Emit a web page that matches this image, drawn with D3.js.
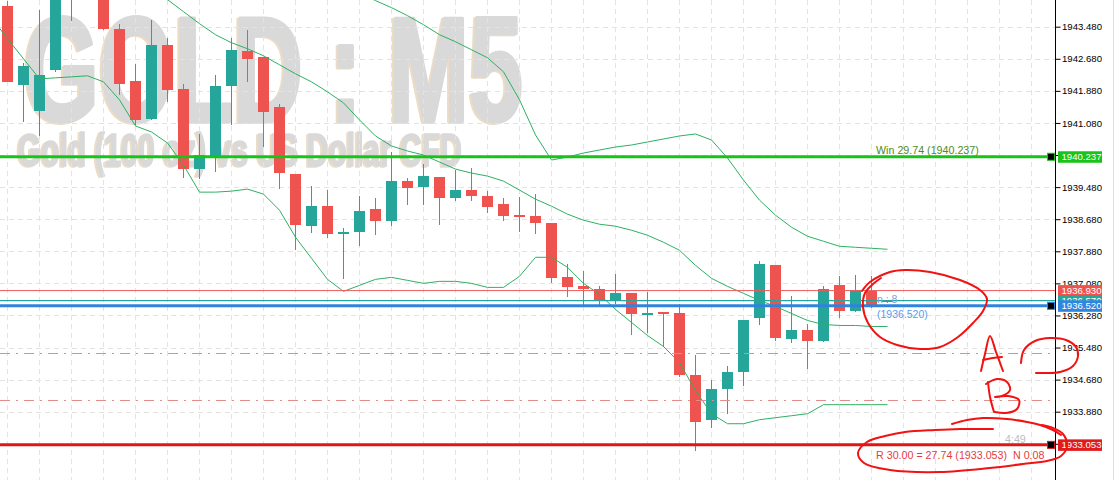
<!DOCTYPE html>
<html><head><meta charset="utf-8">
<script src="https://cdn.jsdelivr.net/npm/d3@7"></script>
<style>
html,body{margin:0;padding:0;background:#fff;}
svg{display:block;}
text{font-family:"Liberation Sans",Arial,sans-serif;}
</style></head><body>
<svg id="c" width="1115" height="480"></svg>
<script>
// ---------- DATA ----------
const opens  = [1943.988,1942.038,1941.388,1942.388,1944.405,1944.9,1944.28,1943.43,1942.13,1941.18,
  1943.03,1941.93,1939.93,1940.238,1942.005,1942.88,1942.73,1941.488,1939.805,1938.505,
  1939.005,1938.305,1938.355,1938.93,1938.638,1939.63,1939.48,1939.73,1939.213,1939.405,
  1939.255,1939.055,1938.78,1938.755,1938.58,1937.23,1937.005,1936.93,1936.648,1936.83,
  1936.288,1936.355,1936.33,1934.805,1933.663,1934.438,1934.863,1936.213,1937.53,1935.688,
  1935.905,1935.638,1937.03,1936.388,1936.888,1936.615];
const highs  = [1944.113,1942.58,1943.905,1944.305,1945.03,1945.1,1944.405,1943.555,1942.555,1943.655,
  1943.205,1942.055,1940.805,1942.28,1943.205,1943.405,1942.73,1941.555,1939.805,1939.505,
  1939.405,1938.463,1939.255,1939.205,1940.355,1939.705,1940.055,1939.73,1939.905,1939.955,
  1939.38,1939.205,1939.23,1939.305,1938.58,1937.555,1937.38,1937.005,1937.305,1936.83,
  1936.855,1936.355,1936.573,1935.305,1934.68,1935.03,1936.155,1937.63,1937.53,1936.755,
  1936.055,1937.005,1937.255,1937.28,1937.255,1936.67];
const lows   = [1942.105,1941.105,1940.763,1942.355,1943.613,1944.3,1943.405,1941.78,1941.03,1941.155,
  1941.613,1939.713,1939.68,1939.863,1941.03,1942.113,1940.488,1939.43,1937.905,1938.338,
  1938.213,1937.18,1938.013,1938.28,1938.505,1939.03,1939.03,1938.53,1939.138,1939.138,
  1938.838,1938.638,1938.363,1938.313,1937.088,1936.738,1936.48,1936.53,1936.563,1935.788,
  1935.838,1935.488,1934.738,1932.888,1933.463,1933.813,1934.513,1936.038,1935.638,1935.588,
  1934.938,1935.613,1936.213,1936.363,1936.455,1936.6];
const closes = [1942.113,1942.505,1942.28,1944.205,1944.78,1944.5,1943.43,1942.063,1941.155,1943.03,
  1941.905,1939.93,1940.28,1942.005,1942.905,1942.68,1941.363,1939.823,1938.53,1939.005,
  1938.305,1938.355,1938.88,1938.63,1939.63,1939.455,1939.755,1939.205,1939.405,1939.263,
  1938.988,1938.763,1938.738,1938.588,1937.213,1936.988,1936.938,1936.638,1936.83,1936.313,
  1936.33,1936.313,1934.788,1933.613,1934.455,1934.88,1936.155,1937.555,1935.713,1935.905,
  1935.638,1936.93,1936.388,1936.905,1936.513,1936.65];

// Bollinger bands: one value per bar, starting one bar before the first visible candle
const bandUpper = [1948.155,1947.905,1947.655,1947.405,1947.155,1946.905,1946.655,1946.455,1946.28,1946.105,
  1945.955,1945.805,1945.655,1945.53,1945.405,1945.28,1945.18,1945.08,1944.98,1944.88,
  1944.78,1944.655,1944.505,1944.33,1944.13,1943.955,1943.755,1943.53,1943.28,1943.105,
  1942.905,1942.705,1942.355,1941.655,1940.78,1940.155,1940.23,1940.33,1940.405,1940.48,
  1940.53,1940.605,1940.68,1940.755,1940.805,1940.655,1940.205,1939.655,1939.155,1938.78,
  1938.48,1938.255,1938.13,1938.005,1937.98,1937.955,1937.93];
const bandMiddle = [1946.405,1946.28,1946.155,1946.03,1945.855,1945.655,1945.455,1945.255,1945.055,1944.78,
  1944.48,1944.155,1943.855,1943.555,1943.28,1943.08,1942.93,1942.755,1942.53,1942.305,
  1942.105,1941.855,1941.58,1941.155,1940.755,1940.505,1940.38,1940.28,1940.105,1939.93,
  1939.83,1939.755,1939.63,1939.405,1939.18,1939.005,1938.805,1938.655,1938.555,1938.505,
  1938.405,1938.28,1938.105,1937.905,1937.53,1937.205,1937.005,1936.83,1936.655,1936.505,
  1936.33,1936.155,1936.055,1936.03,1936.03,1936.005,1936.005];
const bandLower = [1943.705,1943.18,1942.68,1942.18,1942.205,1942.23,1942.255,1942.105,1941.655,1941.005,
  1940.855,1940.58,1940.03,1939.355,1939.355,1939.38,1939.43,1939.305,1938.905,1938.23,
  1937.705,1937.18,1936.88,1937.03,1937.18,1937.23,1937.155,1937.08,1937.13,1937.13,
  1937.08,1936.98,1936.98,1937.255,1937.73,1937.73,1937.48,1937.08,1936.805,1936.43,
  1936.105,1935.78,1935.505,1935.105,1934.405,1933.83,1933.58,1933.58,1933.68,1933.73,
  1933.78,1933.83,1934.055,1934.055,1934.055,1934.055,1934.055];

const tickValues = [1943.48,1942.68,1941.88,1941.08,1940.28,1939.48,1938.68,1937.88,1937.08,1936.28,1935.48,1934.68,1933.88,1933.08];
const levelPrices = [1936.900, 1936.650, 1936.520, 1940.237, 1933.053];
const levelLabels = ["1936.930", "1936.570", "1936.520", "1940.237", "1933.053"];
const levelNames  = ["ask","bid","entry","tp","sl"];
const dashLevels  = [1935.348, 1934.173];
const titleText = "GOLD : M5";
const subtitleText = "Gold (100 oz) vs US Dollar CFD";
const tpText = "Win 29.74 (1940.237)";
const slText = "R 30.00 = 27.74 (1933.053)  N 0.08";
const entryText = "(1936.520)";
const entryTag = "n : 8";
const timerText = "4:49";

// ---------- STYLE ----------
const UP="#26a69a", DOWN="#ef5350", BAND="#2eb062";
const levelStyle = {
  ask:  {stroke:"#f05a5a", w:1,   box:"#ef5350"},
  bid:  {stroke:"#26a69a", w:1.2, box:"#26a69a"},
  entry:{stroke:"#2f83dc", w:3,   box:"#2f86e0", marker:true},
  tp:   {stroke:"#19c419", w:3,   box:"#19c419", marker:true},
  sl:   {stroke:"#e01616", w:3,   box:"#e01b1b", marker:true}
};

const svg = d3.select("#c");
const y = d3.scaleLinear().domain([1943.48,1933.88]).range([26.7,411.7]);
const x = d3.scaleLinear().domain([0,1]).range([7.5,23.5]);
const plotR = 1055;

const defs = svg.append("defs");
defs.append("clipPath").attr("id","plot")
  .append("rect").attr("x",0).attr("y",0).attr("width",plotR).attr("height",480);
defs.append("filter").attr("id","ghost").attr("x","-5%").attr("y","-5%").attr("width","110%").attr("height","110%")
  .append("feDropShadow").attr("dx",-2).attr("dy",1).attr("stdDeviation",0.3)
  .attr("flood-color","#ecdcc4").attr("flood-opacity",1);

const plot = svg.append("g").attr("clip-path","url(#plot)");

// watermark
const wm = plot.append("g").attr("filter","url(#ghost)").attr("fill","#d9d9d9").attr("stroke","#d9d9d9").attr("stroke-linejoin","round");
wm.append("text").attr("x",24).attr("y",121).attr("font-size",148).attr("font-weight","bold").attr("stroke-width",4)
  .attr("textLength",499).attr("lengthAdjust","spacingAndGlyphs").text(titleText);
wm.append("text").attr("x",18).attr("y",166).attr("font-size",47).attr("font-weight","bold").attr("stroke-width",1.6)
  .attr("textLength",444).attr("lengthAdjust","spacingAndGlyphs").text(subtitleText);

// grid
const grid = plot.append("g").attr("stroke","#e3e3e3").attr("stroke-dasharray","5,4").attr("shape-rendering","crispEdges");
grid.selectAll("line.h").data(tickValues).join("line").attr("class","h")
  .attr("x1",0).attr("x2",plotR).attr("y1",d=>Math.round(y(d))+0.5).attr("y2",d=>Math.round(y(d))+0.5);
grid.selectAll("line.v").data(d3.range(0,65,2)).join("line").attr("class","v")
  .attr("x1",d=>x(d)).attr("x2",d=>x(d)).attr("y1",0).attr("y2",480);

// candles
const bars = opens.map((o,i)=>({i,o,h:highs[i],l:lows[i],c:closes[i]}));
const cg = plot.append("g").attr("shape-rendering","crispEdges");
cg.selectAll("line").data(bars).join("line")
  .attr("x1",d=>x(d.i)).attr("x2",d=>x(d.i)).attr("y1",d=>y(d.h)).attr("y2",d=>y(d.l))
  .attr("stroke",d=>d.c>=d.o?UP:DOWN).attr("stroke-width",1.2);
cg.selectAll("rect").data(bars).join("rect")
  .attr("x",d=>x(d.i)-5.2).attr("width",10.6)
  .attr("y",d=>y(Math.max(d.o,d.c))).attr("height",d=>Math.max(1.6,Math.abs(y(d.o)-y(d.c))))
  .attr("fill",d=>d.c>=d.o?UP:DOWN);

// bands
const bandLine = d3.line().x((d,j)=>x(j-1)).y(d=>y(d));
[bandUpper,bandMiddle,bandLower].forEach(b=>{
  plot.append("path").attr("d",bandLine(b)).attr("fill","none").attr("stroke",BAND).attr("stroke-width",1);
});

// dash-dot levels
plot.selectAll("line.dl").data(dashLevels).join("line").attr("class","dl")
  .attr("x1",0).attr("x2",plotR).attr("y1",d=>Math.round(y(d))+0.5).attr("y2",d=>Math.round(y(d))+0.5)
  .attr("stroke","#e48c8c").attr("stroke-width",1).attr("stroke-dasharray","10,6,2,6");

// levels
levelPrices.forEach((p,k)=>{
  const s = levelStyle[levelNames[k]];
  plot.append("line").attr("x1",0).attr("x2",plotR).attr("y1",y(p)).attr("y2",y(p))
    .attr("stroke",s.stroke).attr("stroke-width",s.w);
});

// texts in plot
svg.append("text").attr("x",876).attr("y",y(levelPrices[3])-3).attr("font-size",10.7).attr("fill","#4f8a1a").text(tpText);
svg.append("text").attr("x",877).attr("y",y(levelPrices[2])-2.5).attr("font-size",10.5).attr("fill","#7f9fe0").text(entryTag);
svg.append("text").attr("x",877).attr("y",y(levelPrices[2])+12.5).attr("font-size",10.5).attr("fill","#5b9be6").text(entryText);
svg.append("text").attr("x",876).attr("y",y(levelPrices[4])+14).attr("font-size",10.7).attr("fill","#e63c3c")
  .style("white-space","pre").text(slText);
svg.append("text").attr("x",1005).attr("y",y(levelPrices[4])-2).attr("font-size",10.7).attr("fill","#bdbdbd").text(timerText);

// axis
const axisG = svg.append("g").attr("transform",`translate(${plotR+0.5},0)`)
  .call(d3.axisRight(y).tickValues(tickValues).tickFormat(d3.format(".3f")).tickSize(5).tickSizeOuter(0).tickPadding(1.5));
axisG.select(".domain").remove();
axisG.selectAll("text").attr("font-size",9.6).attr("fill","#000").attr("font-family","Liberation Sans, Arial, sans-serif");
axisG.selectAll("line").attr("stroke","#000");
svg.append("line").attr("x1",plotR+0.5).attr("x2",plotR+0.5).attr("y1",0).attr("y2",480).attr("stroke","#000");
svg.append("line").attr("x1",1113.5).attr("x2",1113.5).attr("y1",0).attr("y2",480).attr("stroke","#dedede");

// price boxes and markers
levelPrices.forEach((p,k)=>{
  const s = levelStyle[levelNames[k]];
  const yy = y(p);
  svg.append("rect").attr("x",1058).attr("y",yy-5.5).attr("width",44).attr("height",11.5).attr("fill",s.box);
  svg.append("text").attr("x",1061.5).attr("y",yy+3.6).attr("font-size",9.6).attr("fill","#fff").text(levelLabels[k]);
  if(s.marker){
    svg.append("rect").attr("x",1047.5).attr("y",yy-3.5).attr("width",7).attr("height",7)
      .attr("fill","#000").attr("stroke",s.stroke).attr("stroke-width",1);
  }
});

// hand-drawn annotations (red marker strokes)
const strokes = [
  [[862,291],[870,282],[890,272],[905,270],[930,272],[960,280],[980,290],[987,299],[983,311],[973,323],[958,337],[940,347],[920,349],[897,345],[880,337],[868,323],[863,307],[865,293],[873,284],[881,278]],
  [[981,371],[985,354],[990,336],[996,352],[1003,371]],
  [[983,360],[993,358],[1002,357]],
  [[1021,363],[1024,350],[1035,341],[1050,338],[1066,340],[1076,347],[1078,356],[1073,366],[1060,372],[1046,373],[1036,373]],
  [[988,382],[990,397],[994,412]],
  [[986,384],[997,379],[1007,382],[1010,390],[1002,396],[995,397],[1008,396],[1019,400],[1017,409],[1006,413],[995,412]],
  [[952,424],[967,420],[983,418],[1007,419],[1027,422],[1040,425],[1053,430],[1061,435]],
  [[993,429],[960,429],[935,430],[905,432],[885,436],[867,442],[858,453],[864,463],[890,470],[940,472],[990,468],[1023,464],[1047,461],[1061,456],[1067,446],[1063,434],[1053,428],[1042,425]]
];
const hand = d3.line().curve(d3.curveCatmullRom.alpha(0.5));
svg.append("g").selectAll("path").data(strokes).join("path").attr("d",hand)
  .attr("fill","none").attr("stroke","#f21212").attr("stroke-width",2).attr("stroke-linecap","round").attr("stroke-linejoin","round");
</script>
</body></html>
